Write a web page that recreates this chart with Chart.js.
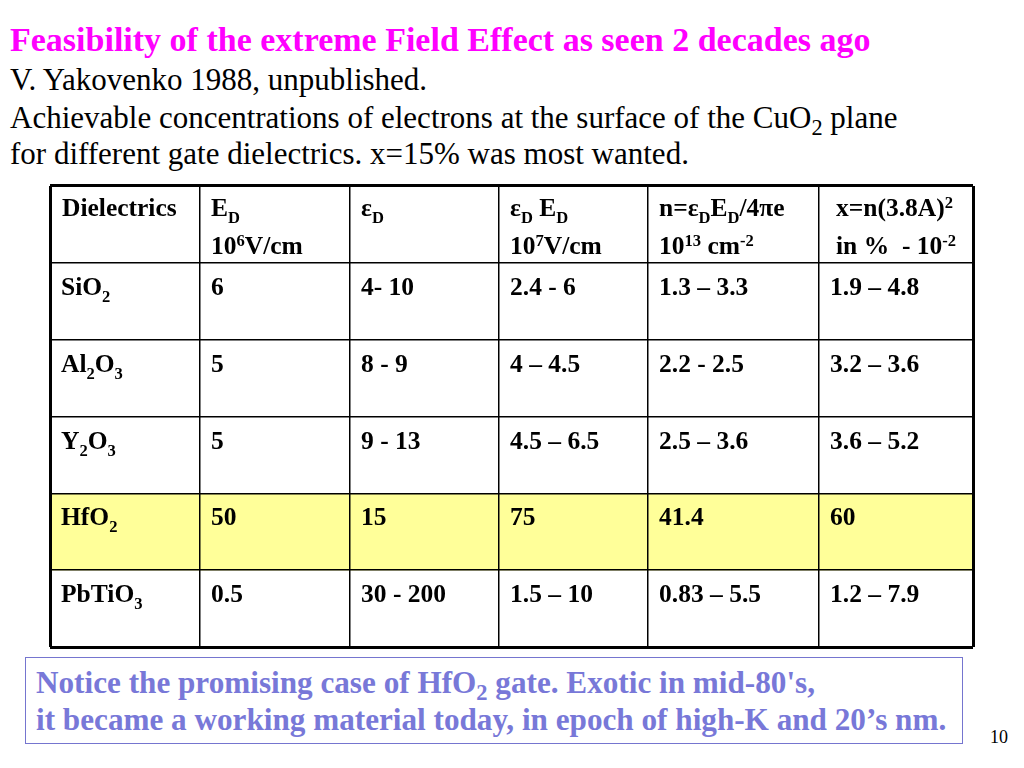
<!DOCTYPE html>
<html>
<head>
<meta charset="utf-8">
<script src="https://cdn.jsdelivr.net/npm/chart.js@4.4.0/dist/chart.umd.min.js"></script>
<style>
  body { margin: 0; width: 1024px; height: 768px; background: #fff; position: relative; overflow: hidden;
         font-family: "Liberation Serif", "Times New Roman", serif; }
  .txt { position: absolute; white-space: nowrap; line-height: 1.15; }
  sub { font-size: 0.72em; vertical-align: -0.3em; line-height: 0; }
  #title { left: 10px; top: 20px; font-size: 34px; font-weight: bold; color: #ff00ff; }
  .sub1 { left: 10px; font-size: 31px; color: #000; }
  #wrap { position: absolute; left: 44px; top: 180px; width: 935px; height: 473px; }
  #note { position: absolute; left: 25px; top: 657px; width: 936px; height: 85px; border: 1.5px solid #7575cf; }
  .noteTxt { left: 36px; font-size: 31.2px; font-weight: bold; color: #7878d8; }
  #page { left: 990px; top: 727px; font-size: 18px; color: #000; }
</style>
</head>
<body>
<div class="txt" id="title">Feasibility of the extreme Field Effect as seen 2 decades ago</div>
<div class="txt sub1" style="top:61.5px">V. Yakovenko 1988, unpublished.</div>
<div class="txt sub1" style="top:99.5px">Achievable concentrations of electrons at the surface of the CuO<sub>2</sub> plane</div>
<div class="txt sub1" style="top:135.5px">for different gate dielectrics. x=15% was most wanted.</div>

<div id="wrap"><canvas id="table"></canvas></div>

<div id="note"></div>
<div class="txt noteTxt" style="top:664.5px">Notice the promising case of HfO<sub>2</sub> gate. Exotic in mid-80's,</div>
<div class="txt noteTxt" style="top:701.5px">it became a working material today, in epoch of high-K and 20’s nm.</div>
<div class="txt" id="page">10</div>

<script>
// table contents (_{..} = subscript, ^{..} = superscript)
const headerTop = ['Dielectrics', 'E_{D}', 'ε_{D}', 'ε_{D} E_{D}', 'n=ε_{D}E_{D}/4πe', 'x=n(3.8A)^{2}'];
const headerBottom = ['', '10^{6}V/cm', '', '10^{7}V/cm', '10^{13} cm^{-2}', 'in %  - 10^{-2}'];
const dielectrics = ['SiO_{2}', 'Al_{2}O_{3}', 'Y_{2}O_{3}', 'HfO_{2}', 'PbTiO_{3}'];
const fieldED = ['6', '5', '5', '50', '0.5'];
const epsD = ['4- 10', '8 - 9', '9 - 13', '15', '30 - 200'];
const epsED = ['2.4 - 6', '4 – 4.5', '4.5 – 6.5', '75', '1.5 – 10'];
const densityN = ['1.3 – 3.3', '2.2 - 2.5', '2.5 – 3.6', '41.4', '0.83 – 5.5'];
const fractionX = ['1.9 – 4.8', '3.2 – 3.6', '3.6 – 5.2', '60', '1.2 – 7.9'];
const highlighted = 'HfO_{2}';

// layout
const colEdges = [0, 150, 300, 449, 598, 769, 923];
const tableWidth = colEdges[colEdges.length - 1];
const headerIndent = [12, 11, 11, 11, 11, 17];
const FONT = '"Liberation Serif", "Times New Roman", serif';
const SIZE = 25.5;

const rowKeys = ['header'].concat(dielectrics);
const columns = [dielectrics, fieldED, epsD, epsED, densityN, fractionX];

function drawRich(ctx, str, x, y, size) {
  const re = /([_^])\{([^}]*)\}/g;
  const parts = [];
  let last = 0, m;
  while ((m = re.exec(str))) {
    if (m.index > last) parts.push({ t: str.slice(last, m.index), k: '' });
    parts.push({ t: m[2], k: m[1] });
    last = re.lastIndex;
  }
  if (last < str.length) parts.push({ t: str.slice(last), k: '' });
  for (const p of parts) {
    const s = p.k ? size * 0.65 : size;
    const dy = p.k === '_' ? size * 0.28 : (p.k === '^' ? -size * 0.33 : 0);
    ctx.font = 'bold ' + s + 'px ' + FONT;
    ctx.fillText(p.t, x, y + dy);
    x += ctx.measureText(p.t).width;
  }
}

const cellText = {
  id: 'cellText',
  afterDraw(chart) {
    const ctx = chart.ctx;
    const xs = chart.scales.x, ys = chart.scales.y;
    ctx.save();
    ctx.fillStyle = '#000';
    ctx.textBaseline = 'alphabetic';
    ctx.textAlign = 'left';
    const top0 = ys.getPixelForValue(-0.5);
    for (let c = 0; c < headerTop.length; c++) {
      const x = xs.getPixelForValue(colEdges[c]) + headerIndent[c];
      drawRich(ctx, headerTop[c], x, top0 + 30, SIZE);
      if (headerBottom[c]) drawRich(ctx, headerBottom[c], x, top0 + 68, SIZE);
    }
    for (let r = 0; r < dielectrics.length; r++) {
      const top = ys.getPixelForValue(r + 0.5);
      for (let c = 0; c < columns.length; c++) {
        const x = xs.getPixelForValue(colEdges[c]) + 11;
        drawRich(ctx, columns[c][r], x, top + 32, SIZE);
      }
    }
    ctx.restore();
  }
};

const edgeWidth = (ctx, n) => (ctx.type !== 'tick' || ctx.index === 0 || ctx.index === n) ? 3 : 1.5;

new Chart(document.getElementById('table'), {
  type: 'bar',
  data: {
    labels: rowKeys,
    datasets: [{
      data: rowKeys.map(k => k === highlighted ? [0, tableWidth] : null),
      backgroundColor: '#ffff99',
      borderWidth: 0,
      barPercentage: 1,
      categoryPercentage: 1
    }]
  },
  options: {
    indexAxis: 'y',
    responsive: true,
    maintainAspectRatio: false,
    animation: false,
    events: [],
    layout: { padding: 6 },
    plugins: { legend: { display: false }, tooltip: { enabled: false }, title: { display: false } },
    scales: {
      x: {
        type: 'linear', min: 0, max: tableWidth,
        afterBuildTicks: s => { s.ticks = colEdges.map(v => ({ value: v })); },
        ticks: { display: false },
        border: { display: false },
        grid: { z: 1, drawTicks: false, color: '#000', lineWidth: ctx => edgeWidth(ctx, colEdges.length - 1) }
      },
      y: {
        type: 'category',
        ticks: { display: false },
        border: { display: false },
        grid: { z: 1, offset: true, drawTicks: false, color: '#000', lineWidth: ctx => edgeWidth(ctx, -1) }
      }
    }
  },
  plugins: [cellText]
});
</script>
</body>
</html>
